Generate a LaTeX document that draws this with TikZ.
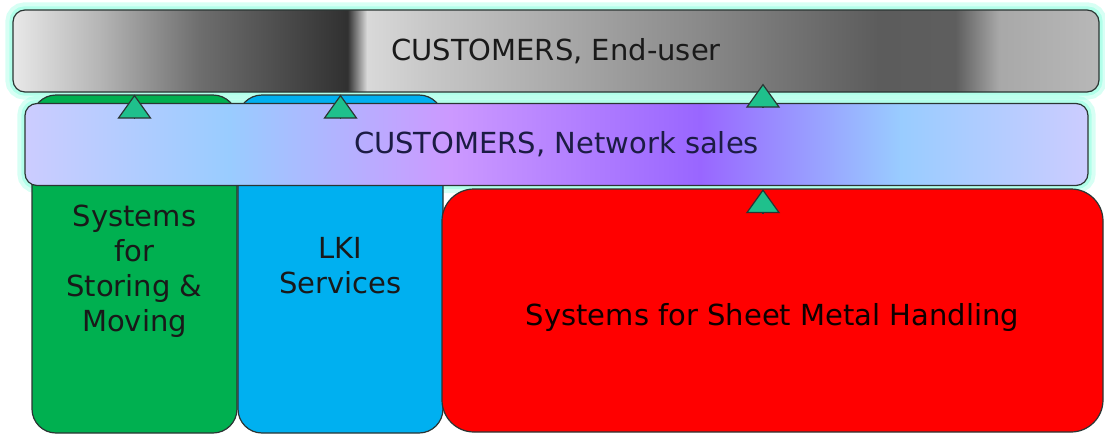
\documentclass[tikz,border=0pt]{standalone}
\usepackage{fontspec}
\setmainfont{DejaVu Sans}
\usetikzlibrary{arrows.meta,positioning,backgrounds}

\definecolor{edge}{HTML}{2B3533}
\definecolor{halocol}{HTML}{8DFFE0}
\definecolor{storegreen}{HTML}{00B050}
\definecolor{lkiblue}{HTML}{00B0F0}
\definecolor{sheetred}{HTML}{FF0000}
\definecolor{feedgreen}{HTML}{1FC08C}
\definecolor{darktext}{HTML}{1A1A1A}
\definecolor{navytext}{HTML}{1C1C44}

% grey band of the end-user bar
\pgfdeclarehorizontalshading{enduserfade}{100bp}{%
  rgb(0bp)=(.91,.91,.91); rgb(25bp)=(.91,.91,.91);
  rgb(29bp)=(.71,.71,.71); rgb(33.6bp)=(.43,.43,.43);
  rgb(40.4bp)=(.19,.19,.19); rgb(41.3bp)=(.85,.85,.85);
  rgb(44.2bp)=(.78,.78,.78); rgb(56.6bp)=(.54,.54,.54);
  rgb(64.9bp)=(.36,.36,.36); rgb(68.4bp)=(.37,.37,.37);
  rgb(70.4bp)=(.66,.66,.66); rgb(75bp)=(.72,.72,.72);
  rgb(100bp)=(.72,.72,.72)}
% lavender / blue / violet band of the sales bar
\pgfdeclarehorizontalshading{salesfade}{100bp}{%
  rgb(0bp)=(.8,.8,1); rgb(25bp)=(.8,.8,1);
  rgb(34.6bp)=(.6,.8,1); rgb(45bp)=(.8,.6,1);
  rgb(56.75bp)=(.6,.4,1); rgb(66.2bp)=(.6,.8,1);
  rgb(75bp)=(.8,.8,1); rgb(100bp)=(.8,.8,1)}

\begin{document}
\begin{tikzpicture}[x=0.5pt,y=-0.5pt,font=\fontsize{14.5}{17.5}\selectfont]
\tikzstyle{bar} = [rectangle, draw=edge, semithick, rounded corners=6pt,
minimum height=41pt, inner sep=0pt]
\tikzstyle{column} = [rectangle, draw=edge, semithick, rounded corners=12pt,
minimum width=102.5pt, minimum height=169pt]
\tikzstyle{caption} = [align=center, inner sep=0pt, text=black!90]
\tikzstyle{feed} = [draw=edge, line width=0.6pt,
-{Triangle[width=17pt,length=12pt,fill=feedgreen]}];
\tikzstyle{halo} = [draw=halocol, rounded corners=6pt];

\useasboundingbox (0,0) rectangle (1105,434);

% row 3
\node [column, fill=storegreen] (storing) at (134.5,264) {};
\node [column, fill=lkiblue] (lki) at (340.5,264) {};
\node [column, fill=sheetred, rounded corners=16pt, minimum width=330.5pt,
minimum height=121.5pt, text height=15pt, text depth=0pt, text=black!95!red]
(sheet) at (772.5,310.5) {Systems for Sheet Metal Handling};
\node [caption, below=55pt of storing.north] (storingtext)
{Systems\\for\\Storing \&\\Moving};
\node [caption, below=71.5pt of lki.north] (lkitext) {LKI\\Services};

% row 2
\node [bar, shade, shading=salesfade, minimum width=531.5pt, text=navytext]
(sales) at (556.5,144.5) {CUSTOMERS, Network sales};
% row 1
\node [bar, shade, shading=enduserfade, minimum width=543pt, text=darktext]
(enduser) at (556,51) {CUSTOMERS, End-user};

% glow round the customer bars
\begin{scope}[on background layer]
\foreach \barname in {enduser,sales} {
  \path [halo, line width=7pt, opacity=.35] (\barname.north west) rectangle (\barname.south east);
  \path [halo, line width=3pt, opacity=.5] (\barname.north west) rectangle (\barname.south east);
}
\end{scope}

\coordinate (tap) at (763,0);
\path [feed] ([yshift=-13pt]enduser.south -| storing) -- ([yshift=-1pt]enduser.south -| storing);
\path [feed] ([yshift=-13pt]enduser.south -| lki) -- ([yshift=-1pt]enduser.south -| lki);
\path [feed] ([yshift=-7.5pt]enduser.south -| tap) -- ([yshift=4.5pt]enduser.south -| tap);
\path [feed] ([yshift=-13.5pt]sales.south -| tap) -- ([yshift=-1.5pt]sales.south -| tap);

\end{tikzpicture}
\end{document}
